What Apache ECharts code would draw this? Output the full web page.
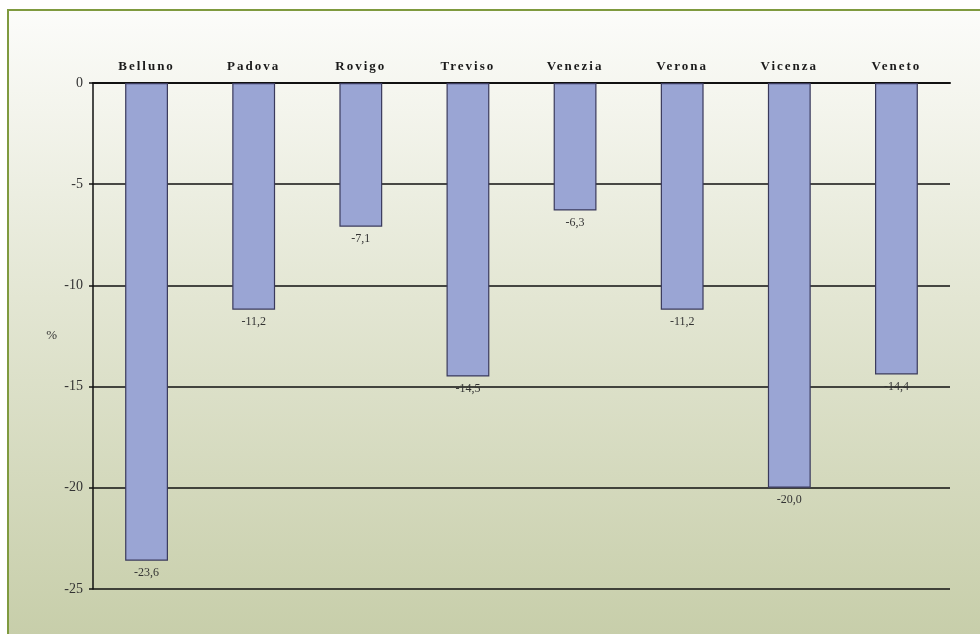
<!DOCTYPE html>
<html>
<head>
<meta charset="utf-8">
<script src="https://cdn.jsdelivr.net/npm/echarts@6/dist/echarts.min.js"></script>
<style>
  html, body { margin: 0; padding: 0; background: #ffffff; }
  #chart { width: 980px; height: 634px; }
</style>
</head>
<body>
<div id="chart"></div>
<script>
// Provinces of Veneto and the regional total
const categories = ['Belluno', 'Padova', 'Rovigo', 'Treviso', 'Venezia', 'Verona', 'Vicenza', 'Veneto'];
// Percentage change
const values = [-23.6, -11.2, -7.1, -14.5, -6.3, -11.2, -20.0, -14.4];
const yTicks = [0, -5, -10, -15, -20, -25];

// Spaced-out lettering for the bold province names
(function () {
  const proto = CanvasRenderingContext2D.prototype;
  const origFill = proto.fillText;
  proto.fillText = function (text, x, y, maxWidth) {
    if ('letterSpacing' in this) {
      this.letterSpacing = /bold/.test(this.font) ? '2px' : '0px';
    }
    return maxWidth === undefined ? origFill.call(this, text, x, y) : origFill.call(this, text, x, y, maxWidth);
  };
})();

const serif = '"Liberation Serif", "DejaVu Serif", serif';
const chart = echarts.init(document.getElementById('chart'), null, { renderer: 'canvas' });

chart.setOption({
  backgroundColor: '#ffffff',
  animation: false,
  graphic: [{
    type: 'rect',
    z: -10,
    silent: true,
    shape: { x: 8, y: 10, width: 990, height: 640 },
    style: {
      fill: {
        type: 'linear', x: 0, y: 0, x2: 0, y2: 1,
        colorStops: [
          { offset: 0, color: '#fcfcfa' },
          { offset: 0.45, color: '#e3e6d3' },
          { offset: 1, color: '#c6cda8' }
        ]
      },
      stroke: '#7f9a3f',
      lineWidth: 2
    }
  }],
  grid: { left: 93, right: 30, top: 83, bottom: 45 },
  xAxis: {
    type: 'category',
    position: 'top',
    data: categories,
    axisLine: { show: true, lineStyle: { color: '#111111', width: 2 } },
    axisTick: { show: false },
    axisLabel: {
      color: '#1a1a1a',
      fontFamily: serif,
      fontWeight: 'bold',
      fontSize: 13,
      margin: 10
    }
  },
  yAxis: {
    type: 'value',
    min: -25,
    max: 0,
    interval: 5,
    name: '%',
    nameLocation: 'middle',
    nameRotate: 0,
    nameGap: 36,
    nameTextStyle: { color: '#333', fontFamily: serif, fontSize: 13 },
    axisLine: { show: true, lineStyle: { color: '#111111', width: 1.5 } },
    axisTick: { show: true, length: 4, lineStyle: { color: '#111111', width: 1.5 } },
    axisLabel: {
      color: '#333',
      fontFamily: serif,
      fontSize: 14,
      margin: 10,
      formatter: v => (yTicks.includes(v) ? String(v) : '')
    },
    splitLine: { show: true, lineStyle: { color: '#111111', width: 1.6 } }
  },
  series: [{
    type: 'bar',
    data: values,
    barWidth: '40%',
    itemStyle: { color: '#9aa5d4', borderColor: '#3a3a5c', borderWidth: 1.2 },
    label: {
      show: true,
      position: 'bottom',
      distance: 6,
      color: '#333',
      fontFamily: serif,
      fontSize: 12,
      formatter: p => p.value.toFixed(1).replace('.', ',')
    }
  }]
});
</script>
</body>
</html>
